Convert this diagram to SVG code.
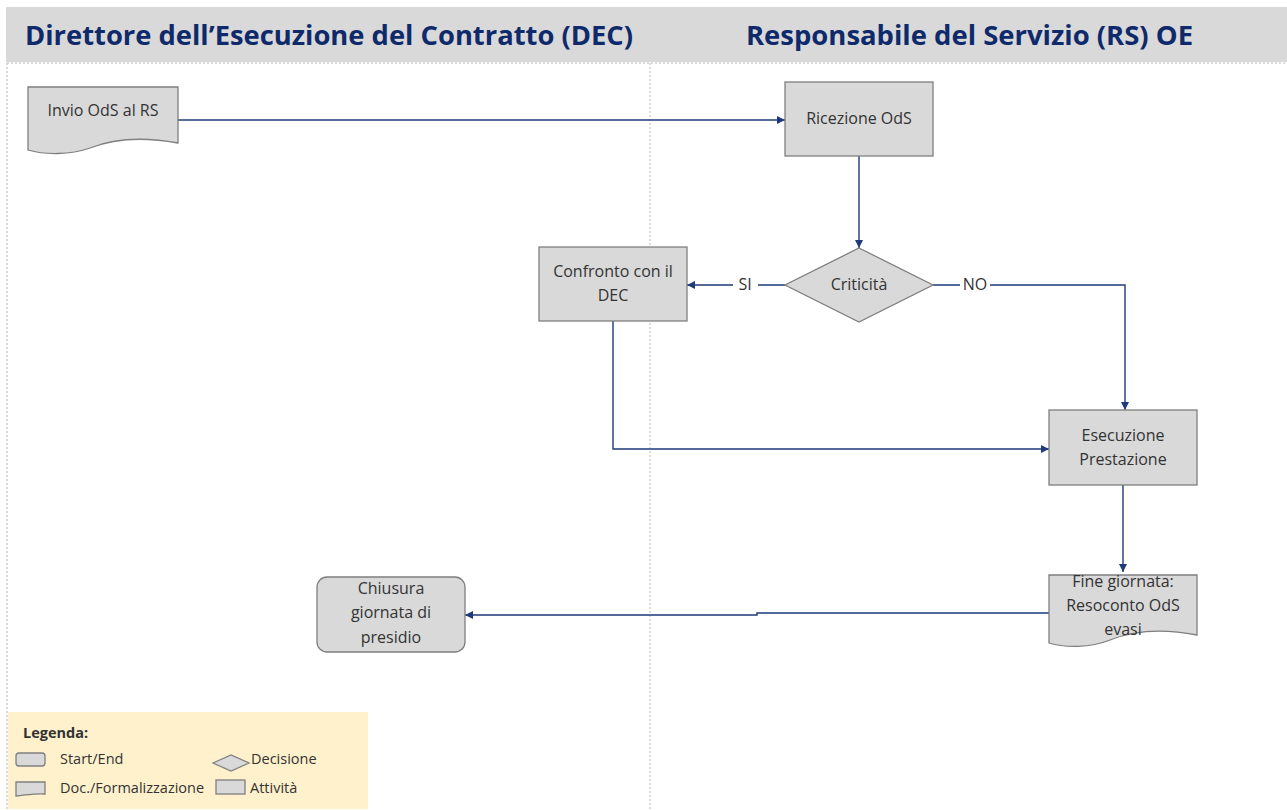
<svg xmlns="http://www.w3.org/2000/svg" width="1287" height="810" viewBox="0 0 1287 810">
<defs>
<style>
.hdr{font-family:"Open Sans","Liberation Sans",sans-serif;font-weight:bold;font-size:26px;fill:#0f2a6b}
.node{fill:#d9d9d9;stroke:#7f7f7f;stroke-width:1.3}
.t{font-family:"Open Sans","Liberation Sans",sans-serif;font-size:16px;fill:#333;text-anchor:middle}
.lt{font-family:"Open Sans","Liberation Sans",sans-serif;font-size:14.5px;fill:#333}
.conn{fill:none;stroke:#1f3a7a;stroke-width:1.4}
.sep{stroke:#d0d0d0;stroke-width:1.5;stroke-dasharray:2 2;fill:none}
</style>
<marker id="ah" viewBox="0 0 10 10" refX="10" refY="5" markerWidth="8" markerHeight="8" markerUnits="userSpaceOnUse" orient="auto">
<path d="M0,0 L10,5 L0,10 z" fill="#1f3a7a"/>
</marker>
</defs>
<rect width="1287" height="810" fill="#ffffff"/>
<rect x="6" y="7" width="1281" height="55" fill="#d9d9d9"/>
<text class="hdr" x="25" y="45" textLength="608" lengthAdjust="spacingAndGlyphs">Direttore dell’Esecuzione  del Contratto (DEC)</text>
<text class="hdr" x="746" y="45" textLength="447" lengthAdjust="spacingAndGlyphs">Responsabile  del Servizio (RS) OE</text>
<line class="sep" x1="7" y1="63" x2="1287" y2="63"/>
<line class="sep" x1="7" y1="63" x2="7" y2="810"/>
<line class="sep" x1="650" y1="63" x2="650" y2="810"/>

<g id="connectors">
<path class="conn" d="M178,120 L785,120" marker-end="url(#ah)"/>
<path class="conn" d="M859,156 L859,248" marker-end="url(#ah)"/>
<path class="conn" d="M785,285 L758,285 M733,285 L687,285" marker-end="url(#ah)"/>
<text class="t" x="745" y="290">SI</text>
<path class="conn" d="M933,285 L960,285 M990,285 L1125,285 L1125,410" marker-end="url(#ah)"/>
<text class="t" x="975" y="290">NO</text>
<path class="conn" d="M613,321 L613,449 L1049,449" marker-end="url(#ah)"/>
<path class="conn" d="M1123,485 L1123,572" marker-end="url(#ah)"/>
<path class="conn" d="M1049,613 L757,613 L757,615 L465,615" marker-end="url(#ah)"/>
</g>

<g id="invio">
<path class="node" d="M28,87 L178,87 L178,143 C140,136 110,140 90,148 C70,155 45,155 28,150 Z"/>
<text class="t" x="103" y="116">Invio OdS al RS</text>
</g>
<g id="ricezione">
<rect class="node" x="785" y="82" width="148" height="74"/>
<text class="t" x="859" y="124">Ricezione OdS</text>
</g>
<g id="criticita">
<path class="node" d="M859,248 L933,285 L859,322 L785,285 Z"/>
<text class="t" x="859" y="290">Criticità</text>
</g>
<g id="confronto">
<rect class="node" x="539" y="247" width="148" height="74"/>
<text class="t" x="613" y="277">Confronto con il</text>
<text class="t" x="613" y="301">DEC</text>
</g>
<g id="esecuzione">
<rect class="node" x="1049" y="410" width="148" height="75"/>
<text class="t" x="1123" y="441">Esecuzione</text>
<text class="t" x="1123" y="465">Prestazione</text>
</g>
<g id="fine">
<path class="node" d="M1049,575 L1197,575 L1197,635 C1160,628 1130,632 1110,640 C1090,648 1065,648 1049,643 Z"/>
<text class="t" x="1123" y="587">Fine giornata:</text>
<text class="t" x="1123" y="611">Resoconto OdS</text>
<text class="t" x="1123" y="635">evasi</text>
</g>
<g id="chiusura">
<rect class="node" x="317" y="577" width="148" height="75" rx="10"/>
<text class="t" x="391" y="594">Chiusura</text>
<text class="t" x="391" y="618">giornata di</text>
<text class="t" x="391" y="643">presidio</text>
</g>

<g id="legenda">
<rect x="8" y="712" width="360" height="97" fill="#fef1cc"/>
<text class="lt" x="23" y="738" font-weight="bold" font-size="16.5">Legenda:</text>
<rect class="node" x="16" y="753" width="29" height="13" rx="3" stroke-width="1"/>
<text class="lt" x="60" y="764">Start/End</text>
<path class="node" d="M213,763 L231,755 L249,763 L231,771 Z" stroke-width="1"/>
<text class="lt" x="251" y="764">Decisione</text>
<path class="node" d="M16,782 L45,782 L45,794 C36,793 27,795 16,796 Z" stroke-width="1"/>
<text class="lt" x="60" y="793">Doc./Formalizzazione</text>
<rect class="node" x="216" y="780" width="29" height="14" stroke-width="1"/>
<text class="lt" x="250" y="793">Attività</text>
</g>
</svg>
